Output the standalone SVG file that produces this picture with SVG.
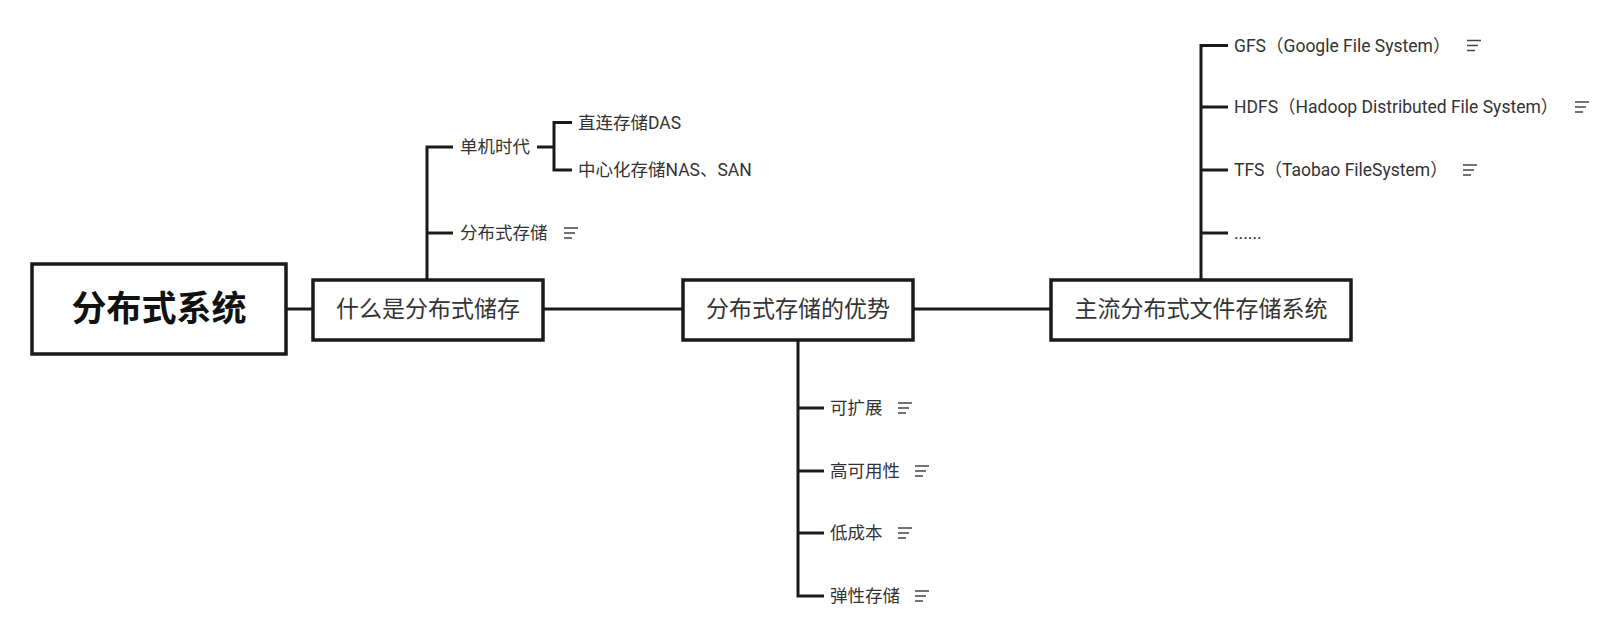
<svg xmlns="http://www.w3.org/2000/svg" width="1613" height="640" viewBox="0 0 1613 640">
<style>
.box{fill:#fff;stroke:#1a1a1a;stroke-width:3.5}
.root{fill:#fff;stroke:#1a1a1a;stroke-width:3.5}
.main{stroke:#1a1a1a;stroke-width:3;fill:none}
text{font-family:Roboto,"Noto Sans CJK SC",sans-serif;fill:#333;dominant-baseline:central}
.t-root{font-size:35px;font-weight:bold;fill:#111;text-anchor:middle}
.t-box{font-size:23px;text-anchor:middle}
.t-leaf{font-size:17.5px}
.note{stroke:#444;stroke-width:1.5}
</style>
<defs>
<g id="note">
<line class="note" x1="0" y1="-5" x2="14" y2="-5"/>
<line class="note" x1="0" y1="0" x2="11" y2="0"/>
<line class="note" x1="0" y1="5" x2="8" y2="5"/>
</g>
</defs>
<g id="connectors">
<line class="main" x1="286" y1="309" x2="313" y2="309"/>
<line class="main" x1="543" y1="309" x2="683" y2="309"/>
<line class="main" x1="913" y1="309" x2="1051" y2="309"/>
<path class="main" d="M427 279 V147 H453"/>
<path class="main" d="M427 233 H453"/>
<path class="main" d="M537 147 H554"/>
<path class="main" d="M572 122.5 H554 V170 H572"/>
<path class="main" d="M798 340 V596 H824"/>
<path class="main" d="M798 408 H824"/>
<path class="main" d="M798 471 H824"/>
<path class="main" d="M798 533 H824"/>
<path class="main" d="M1201 279 V45.5 H1228"/>
<path class="main" d="M1201 107 H1228"/>
<path class="main" d="M1201 170 H1228"/>
<path class="main" d="M1201 233 H1228"/>
</g>
<g id="root">
<rect class="root" x="32" y="264" width="254" height="90"/>
<text class="t-root" x="159" y="309">分布式系统</text>
</g>
<g id="n-what">
<rect class="box" x="313" y="280" width="230" height="60"/>
<text class="t-box" x="428" y="309">什么是分布式储存</text>
</g>
<g id="n-single">
<text class="t-leaf" x="460" y="147">单机时代</text>
</g>
<g id="n-das">
<text class="t-leaf" x="578" y="122.5">直连存储DAS</text>
</g>
<g id="n-nas">
<text class="t-leaf" x="578" y="170">中心化存储NAS、SAN</text>
</g>
<g id="n-dist">
<text class="t-leaf" x="460" y="233">分布式存储</text>
<use href="#note" x="564" y="233"/>
</g>
<g id="n-adv">
<rect class="box" x="683" y="280" width="230" height="60"/>
<text class="t-box" x="798" y="309">分布式存储的优势</text>
</g>
<g id="n-scale">
<text class="t-leaf" x="830" y="408">可扩展</text>
<use href="#note" x="898" y="408"/>
</g>
<g id="n-ha">
<text class="t-leaf" x="830" y="471">高可用性</text>
<use href="#note" x="915" y="471"/>
</g>
<g id="n-cost">
<text class="t-leaf" x="830" y="533">低成本</text>
<use href="#note" x="898" y="533"/>
</g>
<g id="n-elastic">
<text class="t-leaf" x="830" y="596">弹性存储</text>
<use href="#note" x="915" y="596"/>
</g>
<g id="n-main">
<rect class="box" x="1051" y="280" width="300" height="60"/>
<text class="t-box" x="1201" y="309">主流分布式文件存储系统</text>
</g>
<g id="n-gfs">
<text class="t-leaf" x="1234" y="45.5">GFS（Google File System）</text>
<use href="#note" x="1467" y="45.5"/>
</g>
<g id="n-hdfs">
<text class="t-leaf" x="1234" y="107">HDFS（Hadoop Distributed File System）</text>
<use href="#note" x="1575" y="107"/>
</g>
<g id="n-tfs">
<text class="t-leaf" x="1234" y="170">TFS（Taobao FileSystem）</text>
<use href="#note" x="1463" y="170"/>
</g>
<g id="n-more">
<text class="t-leaf" x="1234" y="233">......</text>
</g>
</svg>
